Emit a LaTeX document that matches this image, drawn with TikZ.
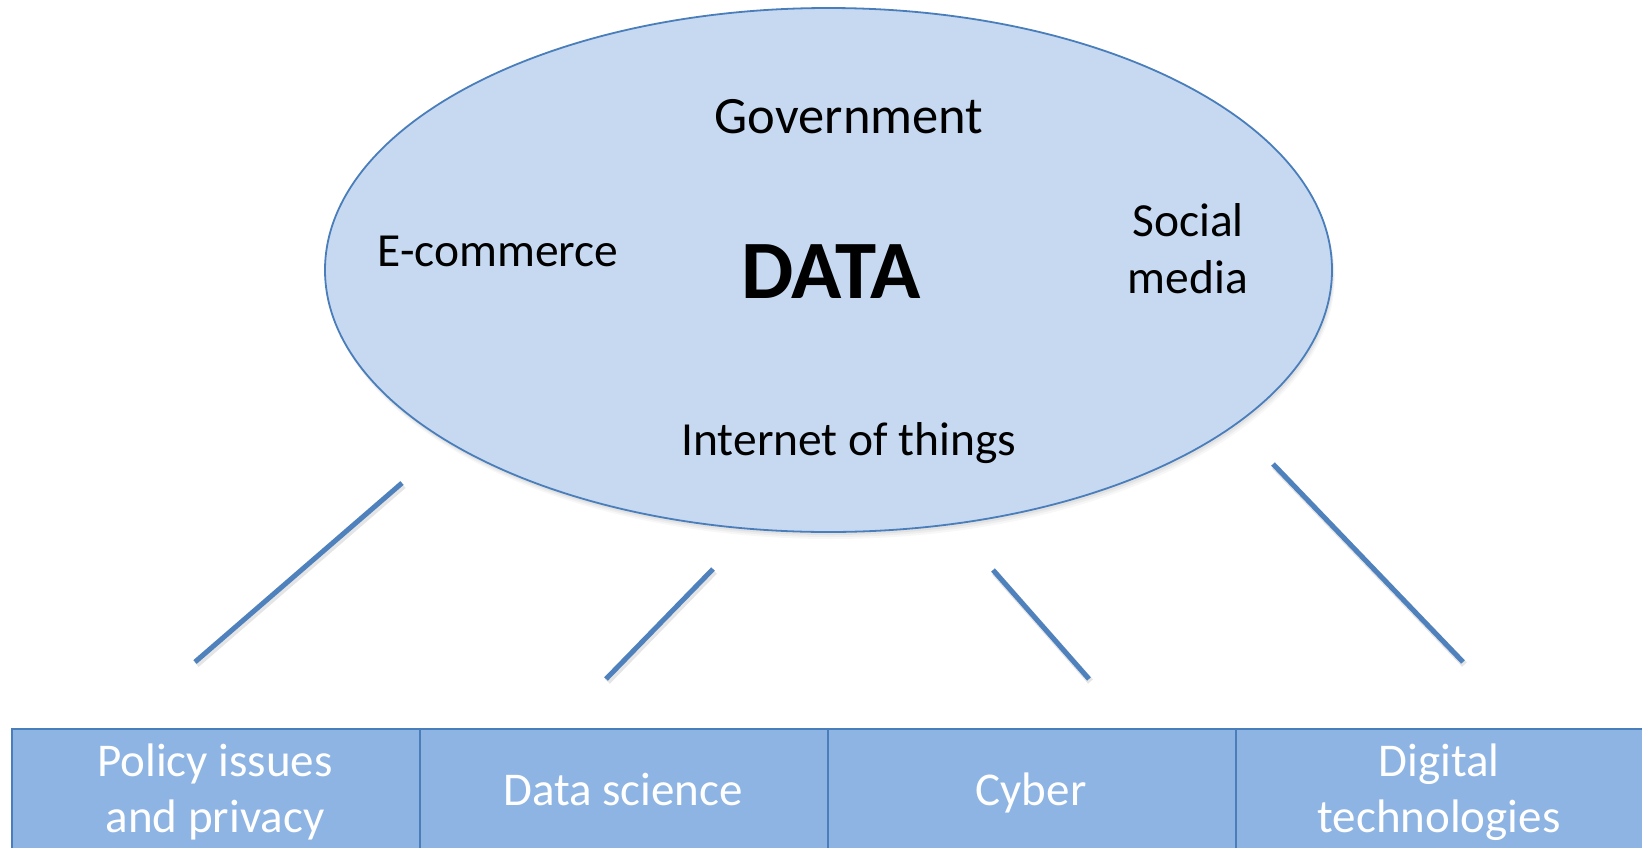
\documentclass[tikz,border=0pt]{standalone}
\usepackage{fontspec}
\setmainfont{Carlito}
\usetikzlibrary{shapes.geometric}
\definecolor{edgeblue}{HTML}{4A7EBB}
\definecolor{lineblue}{HTML}{4F81BD}
\definecolor{ovalfill}{HTML}{C6D9F1}
\definecolor{boxfill}{HTML}{8EB4E3}
\tikzset{
  oval/.style={ellipse, draw=edgeblue, line width=1.8pt, fill=ovalfill,
    inner sep=0pt, minimum width=1007pt, minimum height=524pt},
  topic/.style={anchor=base, inner sep=0pt, align=center,
    font=\fontsize{47.5}{57}\selectfont},
  core/.style={anchor=base, inner sep=0pt,
    font=\fontsize{83}{90}\selectfont\bfseries},
  field/.style={rectangle, draw=edgeblue, line width=2pt, fill=boxfill,
    minimum width=408pt, minimum height=127pt, inner sep=0pt, anchor=north west},
  fieldtext/.style={anchor=base, inner sep=0pt, text=white, align=center,
    font=\fontsize{47}{56}\selectfont},
  link/.style={draw=lineblue, line width=5pt},
  linkshadow/.style={draw=black, opacity=0.10, line width=6.5pt},
}
\begin{document}
\begin{tikzpicture}[x=1pt, y=-1pt]
\useasboundingbox (0,0) rectangle (1642,847);
\clip (0,0) rectangle (1642,847);

% soft shadow under the oval
\foreach \d/\o in {7/0.03, 5/0.04, 3/0.05} {
  \fill[black, opacity=\o] (828.5+0.4*\d, 270+\d) ellipse [x radius=503.5pt, y radius=262pt];
}
\node[oval] (cloud) at (828.5,270) {};

% labels inside the oval (base = baseline of the last line)
\node[topic, font=\fontsize{52.5}{57}\selectfont] (gov) at (849,133) {Government};
\node[topic] (ecom)   at (498,266)  {E-commerce};
\node[core]  (data)   at (831,298)  {DATA};
\node[topic] (social) at (1188,293) {Social\\media};
\node[topic] (iot)    at (849,455)  {Internet of things};

% row of fields
\node[field] (policy)  at (11,728)   {};
\node[field] (science) at (419,728)  {};
\node[field] (cyber)   at (827,728)  {};
\node[field] (digital) at (1235,728) {};
\node[fieldtext] (policyt)  at (215,832)  {Policy issues\\and privacy};
\node[fieldtext] (sciencet) at (623,805)  {Data science};
\node[fieldtext] (cybert)   at (1031,805) {Cyber};
\node[fieldtext] (digitalt) at (1439,832) {Digital\\technologies};

% connector strokes
\coordinate (l1a) at (402,483);  \coordinate (l1b) at (195,662);
\coordinate (l2a) at (713,569);  \coordinate (l2b) at (606,679);
\coordinate (l3a) at (993,570);  \coordinate (l3b) at (1089,679);
\coordinate (l4a) at (1273,464); \coordinate (l4b) at (1463,662);
\foreach \p in {1,2,3,4} {
  \draw[linkshadow] ([shift={(1.5,2.5)}]l\p a) -- ([shift={(1.5,2.5)}]l\p b);
  \draw[link] (l\p a) -- (l\p b);
}
\end{tikzpicture}
\end{document}
